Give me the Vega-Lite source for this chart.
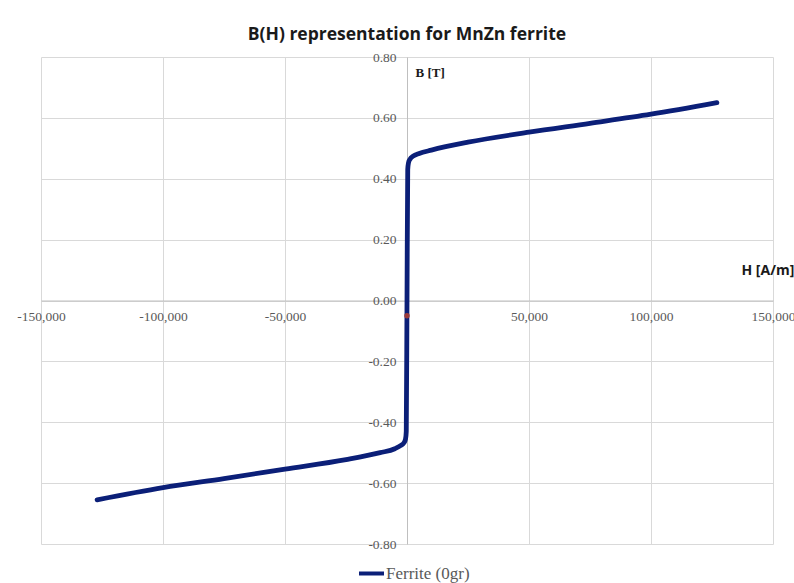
{
  "$schema": "https://vega.github.io/schema/vega-lite/v6.json",
  "autosize": "none",
  "width": 732,
  "height": 487,
  "padding": {"left": 41, "top": 57, "right": 21, "bottom": 39},
  "background": "white",
  "title": {
    "text": "B(H) representation for MnZn ferrite",
    "font": "Open Sans",
    "fontSize": 17.5,
    "fontWeight": "bold",
    "color": "#1a1a1a",
    "anchor": "middle",
    "offset": 7
  },
  "config": {
    "view": {"stroke": null},
    "axis": {
      "gridColor": "#d9d9d9",
      "gridWidth": 1,
      "domainColor": "#bfbfbf",
      "ticks": false,
      "labelFont": "Liberation Serif",
      "labelFontSize": 13.5,
      "labelColor": "#595959",
      "labelFlush": false,
      "labelOverlap": false
    }
  },
  "datasets": {
    "curve": [
      {"order": 1, "H": -127000, "B": -0.655, "series": "Ferrite (0gr)"},
      {"order": 2, "H": -100000, "B": -0.615, "series": "Ferrite (0gr)"},
      {"order": 3, "H": -75000, "B": -0.585, "series": "Ferrite (0gr)"},
      {"order": 4, "H": -50000, "B": -0.554, "series": "Ferrite (0gr)"},
      {"order": 5, "H": -25000, "B": -0.523, "series": "Ferrite (0gr)"},
      {"order": 6, "H": -11000, "B": -0.500, "series": "Ferrite (0gr)"},
      {"order": 7, "H": -5000, "B": -0.487, "series": "Ferrite (0gr)"},
      {"order": 8, "H": -2500, "B": -0.476, "series": "Ferrite (0gr)"},
      {"order": 9, "H": -1200, "B": -0.467, "series": "Ferrite (0gr)"},
      {"order": 10, "H": -600, "B": -0.455, "series": "Ferrite (0gr)"},
      {"order": 11, "H": -300, "B": -0.43, "series": "Ferrite (0gr)"},
      {"order": 12, "H": 0, "B": 0.0, "series": "Ferrite (0gr)"},
      {"order": 13, "H": 300, "B": 0.43, "series": "Ferrite (0gr)"},
      {"order": 14, "H": 600, "B": 0.452, "series": "Ferrite (0gr)"},
      {"order": 15, "H": 1200, "B": 0.464, "series": "Ferrite (0gr)"},
      {"order": 16, "H": 2500, "B": 0.474, "series": "Ferrite (0gr)"},
      {"order": 17, "H": 5000, "B": 0.483, "series": "Ferrite (0gr)"},
      {"order": 18, "H": 10000, "B": 0.494, "series": "Ferrite (0gr)"},
      {"order": 19, "H": 25000, "B": 0.520, "series": "Ferrite (0gr)"},
      {"order": 20, "H": 50000, "B": 0.553, "series": "Ferrite (0gr)"},
      {"order": 21, "H": 75000, "B": 0.582, "series": "Ferrite (0gr)"},
      {"order": 22, "H": 100000, "B": 0.612, "series": "Ferrite (0gr)"},
      {"order": 23, "H": 127000, "B": 0.650, "series": "Ferrite (0gr)"}
    ],
    "marker": [
      {"H": 0, "B": -0.05}
    ]
  },
  "layer": [
    {
      "data": {"name": "curve"},
      "mark": {"type": "line", "strokeWidth": 4.8, "strokeCap": "round", "strokeJoin": "round", "interpolate": "monotone"},
      "encoding": {
        "x": {
          "field": "H",
          "type": "quantitative",
          "scale": {"domain": [-150000, 150000], "nice": false, "zero": false},
          "axis": {
            "values": [-150000, -100000, -50000, 0, 50000, 100000, 150000],
            "offset": -243.5,
            "labelExpr": "datum.value == 0 ? '' : (datum.value < 0 ? '-' : '') + format(abs(datum.value), ',.0f')",
            "labelPadding": 9,
            "labelBaseline": "top",
            "title": "H [A/m]",
            "titleFont": "Open Sans",
            "titleFontSize": 14,
            "titleFontWeight": "bold",
            "titleColor": "#1a1a1a",
            "titleAlign": "left",
            "titleBaseline": "middle",
            "titleAnchor": "start",
            "titleX": 700,
            "titleY": -30
          }
        },
        "y": {
          "field": "B",
          "type": "quantitative",
          "scale": {"domain": [-0.8, 0.8], "nice": false, "zero": false},
          "axis": {
            "values": [-0.8, -0.6, -0.4, -0.2, 0, 0.2, 0.4, 0.6, 0.8],
            "offset": -366,
            "labelExpr": "(datum.value < -0.0001 ? '-' : '') + format(abs(datum.value), '.2f')",
            "labelPadding": 11,
            "title": "B [T]",
            "titleFont": "Liberation Serif",
            "titleFontSize": 13,
            "titleFontWeight": "bold",
            "titleColor": "#1a1a1a",
            "titleAngle": 0,
            "titleAlign": "left",
            "titleBaseline": "middle",
            "titleX": 8,
            "titleY": 15
          }
        },
        "order": {"field": "order", "type": "quantitative"},
        "color": {
          "field": "series",
          "type": "nominal",
          "scale": {"range": ["#0b1f78"]},
          "legend": {
            "title": null,
            "orient": "none",
            "legendX": 316,
            "legendY": 502,
            "symbolType": "stroke",
            "symbolSize": 625,
            "symbolStrokeWidth": 4,
            "labelFont": "Liberation Serif",
            "labelFontSize": 17,
            "labelColor": "#595959",
            "labelOffset": 0
          }
        }
      }
    },
    {
      "data": {"name": "marker"},
      "mark": {"type": "point", "filled": true, "size": 30, "color": "#9b3a3a", "opacity": 1},
      "encoding": {
        "x": {"field": "H", "type": "quantitative"},
        "y": {"field": "B", "type": "quantitative"}
      }
    }
  ]
}
